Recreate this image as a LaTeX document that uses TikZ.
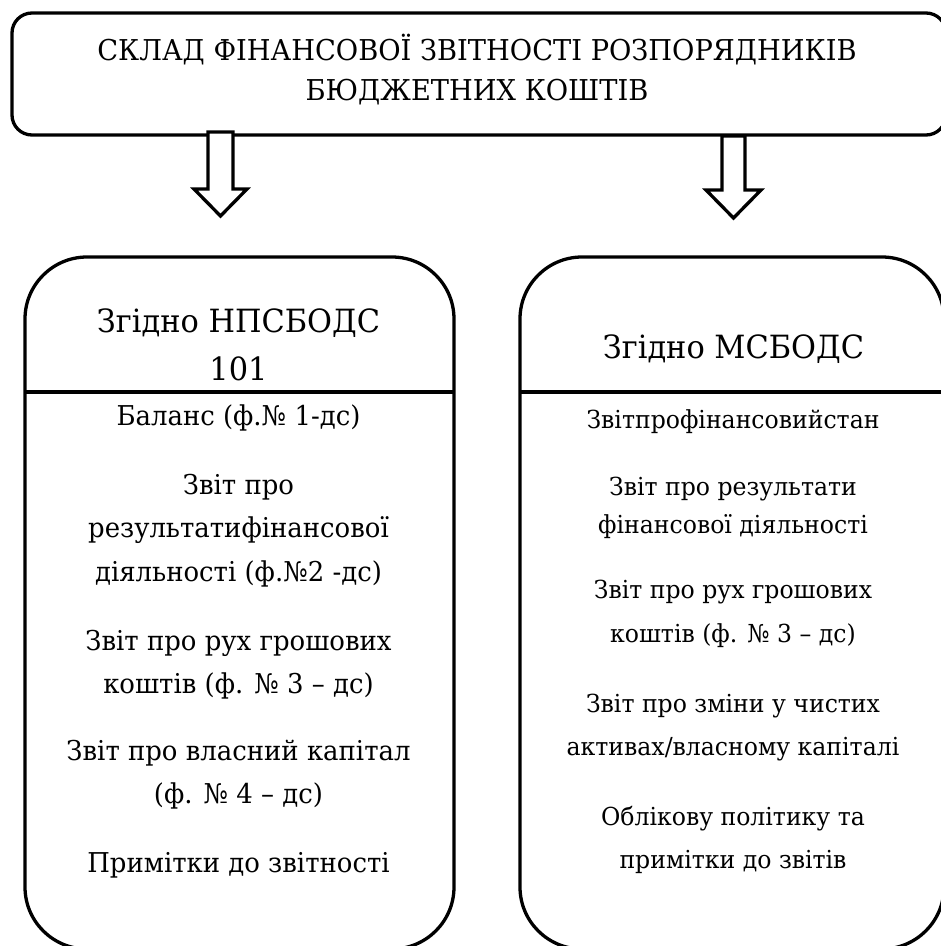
\documentclass[tikz,border=0pt]{standalone}
\usepackage{fontspec}
\setmainfont{DejaVu Serif}[FakeStretch=0.95]
\newfontfamily\tnr{DejaVu Serif}[FakeStretch=0.95]
\usetikzlibrary{calc}
\tikzset{
  frame/.style={draw=black, line width=3.3pt, fill=none, inner sep=0pt, outer sep=0pt},
  divider/.style={draw=black, line width=3.3pt},
  blockarrow/.style={draw=black, fill=white, line width=3.3pt, line join=miter},
  titletext/.style={font=\tnr\fontsize{28.7}{40}\selectfont, inner sep=0pt, anchor=base},
  headtext/.style={font=\tnr\fontsize{32}{48}\selectfont, inner sep=0pt, anchor=base},
  bodyL/.style={font=\tnr\fontsize{27.3}{43.5}\selectfont, inner sep=0pt, anchor=base},
  bodyR/.style={font=\tnr\fontsize{24.8}{43}\selectfont, inner sep=0pt, anchor=base}
}
\begin{document}
\begin{tikzpicture}[x=1pt,y=-1pt]
\useasboundingbox (0,0) rectangle (941,946);
\clip (0,0) rectangle (941,946);

% title box
\node[frame, rounded corners=20pt, minimum width=934pt, minimum height=122pt] (title) at (479,74) {};
\node[titletext] (t1) at (477,60) {СКЛАД ФІНАНСОВОЇ ЗВІТНОСТІ РОЗПОРЯДНИКІВ};
\node[titletext] (t2) at (477,100) {БЮДЖЕТНИХ КОШТІВ};

% left and right boxes
\node[frame, rounded corners=62pt, minimum width=429pt, minimum height=692pt] (left) at (239.5,603) {};
\node[frame, rounded corners=62pt, minimum width=424pt, minimum height=692pt] (right) at (732,603) {};
\draw[divider] (left.west |- 0,392) -- (left.east |- 0,392);
\draw[divider] (right.west |- 0,392) -- (right.east |- 0,392);

% block arrows
\coordinate (aL) at (220.5,132);
\coordinate (aR) at (733.5,136);
\draw[blockarrow] ($(aL)+(-12.5,0)$) -- ($(aL)+(-12.5,57)$) -- ($(aL)+(-26.5,57)$) -- ($(aL)+(0,84)$) -- ($(aL)+(26.5,57)$) -- ($(aL)+(12.5,57)$) -- ($(aL)+(12.5,0)$) -- cycle;
\draw[blockarrow] ($(aR)+(-11.5,0)$) -- ($(aR)+(-11.5,54)$) -- ($(aR)+(-27.5,54)$) -- ($(aR)+(0,82)$) -- ($(aR)+(27.5,54)$) -- ($(aR)+(11.5,54)$) -- ($(aR)+(11.5,0)$) -- cycle;

% headers
\node[headtext] (hL1) at (238.5,332) {Згідно НПСБОДС};
\node[headtext] (hL2) at (238.5,380) {101};
\node[headtext] (hR) at (733.5,358) {Згідно МСБОДС};

% left body
\node[bodyL] (l1) at (238.5,425) {Баланс (ф.№ 1-дс)};
\node[bodyL] (l2) at (238.5,494) {Звіт про};
\node[bodyL] (l3) at (238.5,537) {результатифінансової};
\node[bodyL] (l4) at (238.5,581) {діяльності (ф.№2 -дс)};
\node[bodyL] (l5) at (238.5,650) {Звіт про рух грошових};
\node[bodyL] (l6) at (238.5,693) {коштів (ф. № 3 – дс)};
\node[bodyL] (l7) at (238.5,760) {Звіт про власний капітал};
\node[bodyL] (l8) at (238.5,803) {(ф. № 4 – дс)};
\node[bodyL] (l9) at (238.5,872) {Примітки до звітності};

% right body
\node[bodyR] (r1) at (733,428) {Звітпрофінансовийстан};
\node[bodyR] (r2) at (733,495) {Звіт про результати};
\node[bodyR] (r3) at (733,533) {фінансової діяльності};
\node[bodyR] (r4) at (733,598) {Звіт про рух грошових};
\node[bodyR] (r5) at (733,642) {коштів (ф. № 3 – дс)};
\node[bodyR] (r6) at (733,712) {Звіт про зміни у чистих};
\node[bodyR] (r7) at (733,755) {активах/власному капіталі};
\node[bodyR] (r8) at (733,825) {Облікову політику та};
\node[bodyR] (r9) at (733,868) {примітки до звітів};
\end{tikzpicture}
\end{document}
